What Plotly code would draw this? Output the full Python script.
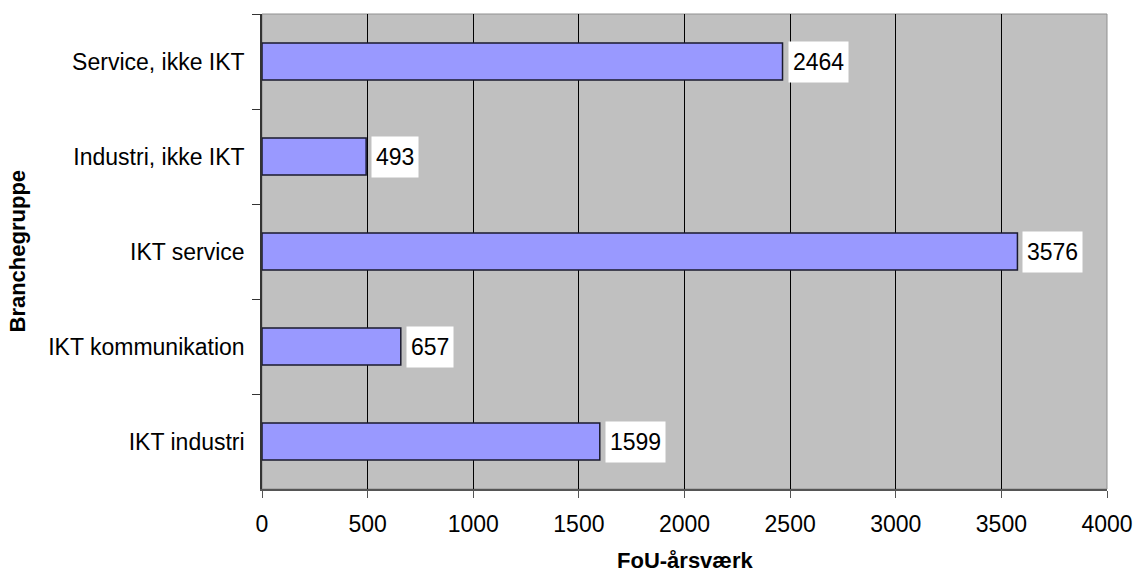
import plotly.graph_objects as go

# Branchegrupper, listed top to bottom
categories = ["Service, ikke IKT", "Industri, ikke IKT", "IKT service",
              "IKT kommunikation", "IKT industri"]
values = [2464, 493, 3576, 657, 1599]
x_ticks = [0, 500, 1000, 1500, 2000, 2500, 3000, 3500, 4000]

FONT = "Liberation Sans, Arial, sans-serif"
PLOT_W, PLOT_H = 845, 475

fig = go.Figure()
fig.add_trace(go.Bar(
    x=values, y=categories, orientation="h",
    marker=dict(color="#9999FF", line=dict(color="#1a1a2e", width=1.5)),
    width=0.39, hoverinfo="x+y",
))

# value labels in white boxes next to each bar
for cat, val in zip(categories, values):
    fig.add_annotation(
        x=val, y=cat, xref="x", yref="y", text=str(val),
        xanchor="left", yanchor="middle", xshift=5, showarrow=False,
        bgcolor="white", borderpad=4, height=32, align="center",
        font=dict(family=FONT, size=23, color="black"),
    )

# axis titles placed in pixel terms relative to the plot area
fig.add_annotation(
    text="<b>Branchegruppe</b>", xref="paper", yref="paper",
    x=(17 - 262) / PLOT_W, y=0.5, textangle=-90, showarrow=False,
    xanchor="center", yanchor="middle",
    font=dict(family=FONT, size=22, color="black"),
)
fig.add_annotation(
    text="<b>FoU-årsværk</b>", xref="paper", yref="paper",
    x=0.5, y=-(560 - 489) / PLOT_H, showarrow=False,
    xanchor="center", yanchor="middle",
    font=dict(family=FONT, size=22, color="black"),
)

fig.update_layout(
    width=1137, height=573,
    margin=dict(l=262, r=30, t=14, b=84, autoexpand=False),
    paper_bgcolor="white", plot_bgcolor="#C0C0C0",
    showlegend=False,
    font=dict(family=FONT, size=23, color="black"),
    shapes=[dict(type="rect", xref="paper", yref="paper", x0=0, y0=0, x1=1, y1=1,
                 line=dict(color="#909090", width=1), layer="below")],
)
fig.update_xaxes(
    range=[0, 4000], tickvals=x_ticks, ticktext=[str(t) for t in x_ticks],
    showgrid=True, gridcolor="black", gridwidth=1,
    showline=True, linecolor="#555555", linewidth=2,
    ticks="outside", ticklen=7, tickcolor="#555555", tickwidth=1,
    ticklabelstandoff=6, zeroline=False, automargin=False,
)
fig.update_yaxes(
    autorange="reversed", tickson="boundaries",
    showline=True, linecolor="#333333", linewidth=1.5,
    ticks="outside", ticklen=8, tickcolor="#333333", tickwidth=1,
    ticklabelstandoff=11, showgrid=False, automargin=False,
)

fig.write_html("out.html")
